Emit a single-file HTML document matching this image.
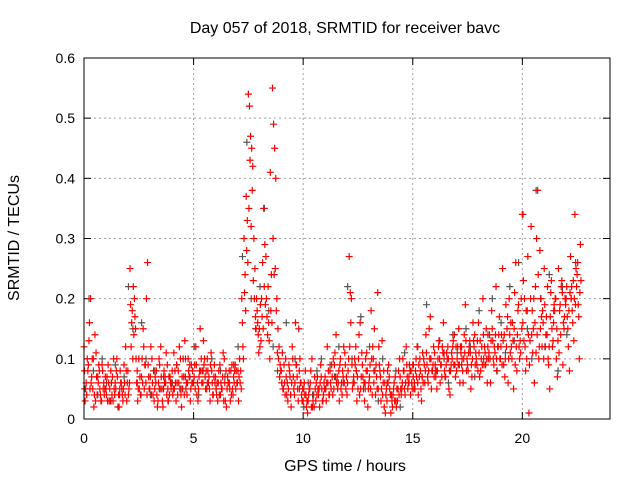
<!DOCTYPE html>
<html><head><meta charset="utf-8"><style>
body{margin:0;background:#fff}
svg{display:block;font-family:"Liberation Sans",sans-serif}
</style></head><body>
<svg id="chart" width="640" height="480" viewBox="0 0 640 480">
<rect width="640" height="480" fill="#fff"/>
<text x="345" y="33" font-size="16" text-anchor="middle">Day 057 of 2018, SRMTID for receiver bavc</text>
<text x="345" y="471" font-size="16" text-anchor="middle">GPS time / hours</text>
<text transform="translate(19,238) rotate(-90)" font-size="16" text-anchor="middle">SRMTID / TECUs</text>
<g id="grid"></g>
<g id="ticks"></g>
<g id="gray"></g>
<g id="red"></g>
<rect x="84" y="58" width="526" height="361" fill="none" stroke="#000" stroke-width="1"/>
</svg>
<script>
const xTicks=[0,5,10,15,20];
const yTicks=[0,0.1,0.2,0.3,0.4,0.5,0.6];
const yTickLabels=["0","0.1","0.2","0.3","0.4","0.5","0.6"];
const redA=[.12,.06,.09,.2,.05,.14,.04,.08,.03,.06,
.05,.09,.03,.07,.04,.1,.02,.06,.05,.12,
.08,.25,.18,.2,.06,.1,.04,.15,.09,.26,
.05,.1,.03,.08,.06,.12,.02,.07,.09,.04,
.06,.11,.03,.08,.1,.05,.13,.04,.07,.09,
.06,.12,.03,.15,.08,.1,.05,.07,.11,.04,
.07,.03,.09,.05,.1,.02,.06,.08,.04,.09,
.06,.1,.2,.3,.37,.54,.47,.42,.25,.18,
.15,.2,.35,.27,.22,.41,.55,.45,.2,.12,
.08,.05,.1,.03,.07,.12,.04,.09,.15,.06,
.03,.08,.01,.05,.1,.02,.06,.04,.09,.03,
.07,.12,.04,.09,.05,.14,.06,.1,.08,.11,
.04,.27,.2,.07,.12,.05,.16,.09,.03,.11,
.06,.18,.1,.04,.21,.08,.13,.02,.05,.09,
.01,.04,.07,.03,.1,.05,.08,.12,.06,.04,
.09,.05,.12,.07,.03,.1,.14,.06,.17,.08,
.11,.05,.13,.09,.16,.07,.12,.04,.1,.14,
.08,.15,.11,.06,.19,.09,.13,.07,.12,.1,
.16,.08,.2,.11,.06,.14,.18,.09,.22,.12,
.1,.25,.07,.15,.2,.12,.05,.26,.18,.13,
.34,.2,.1,.01,.32,.15,.22,.38,.28,.12,
.25,.17,.09,.21,.13,.2,.07,.18,.23,.15,
.2,.12,.27,.16,.34,.24,.1];
const redB=[.03,.1,.16,.07,.02,.11,.06,.04,.08,.05,
.07,.03,.06,.1,.05,.02,.08,.04,.06,.03,
.05,.12,.22,.15,.03,.07,.1,.05,.2,.07,
.12,.04,.07,.02,.09,.05,.08,.11,.03,.06,
.04,.08,.06,.12,.02,.07,.05,.1,.03,.08,
.09,.04,.07,.1,.13,.05,.08,.03,.06,.09,
.04,.08,.06,.11,.03,.07,.05,.09,.06,.08,
.03,.08,.12,.24,.33,.52,.45,.3,.15,.14,
.19,.26,.29,.17,.13,.24,.49,.4,.15,.09,
.11,.06,.04,.09,.02,.07,.16,.05,.1,.03,
.06,.02,.04,.08,.03,.05,.07,.02,.05,.06,
.03,.08,.06,.04,.11,.07,.03,.06,.12,.05,
.08,.21,.05,.1,.03,.14,.07,.05,.1,.02,
.09,.04,.15,.07,.12,.03,.06,.01,.08,.05,
.03,.06,.02,.08,.05,.1,.04,.07,.09,.06,
.05,.1,.04,.08,.11,.06,.09,.15,.05,.12,
.07,.1,.06,.12,.08,.11,.05,.09,.13,.07,
.12,.06,.1,.14,.08,.11,.05,.16,.09,.13,
.07,.12,.09,.15,.1,.06,.13,.11,.08,.17,
.14,.09,.19,.06,.11,.16,.21,.08,.12,.2,
.23,.08,.27,.13,.18,.06,.3,.1,.2,.16,
.12,.22,.05,.15,.19,.1,.25,.14,.09,.2,
.17,.08,.22,.13,.25,.19,.29];
const redC=[.08,.04,.13,.06,.1,.03,.07,.05,.09,.04,
.04,.06,.08,.03,.06,.07,.04,.05,.09,.08,
.04,.19,.1,.17,.08,.05,.07,.12,.06,.09,
.07,.06,.05,.04,.1,.07,.05,.06,.05,.07,
.08,.05,.09,.06,.04,.1,.07,.06,.09,.06,
.07,.09,.05,.08,.06,.07,.1,.05,.08,.07,
.05,.06,.04,.07,.06,.05,.08,.04,.07,.05,
.08,.06,.16,.21,.28,.35,.32,.23,.17,.16,
.12,.17,.22,.2,.16,.18,.3,.25,.11,.07,
.06,.09,.07,.05,.04,.1,.06,.07,.08,.04,
.05,.04,.03,.06,.02,.07,.04,.05,.07,.04,
.05,.06,.08,.07,.09,.06,.08,.05,.07,.09,
.06,.12,.09,.06,.08,.1,.05,.07,.06,.08,
.07,.1,.06,.09,.05,.07,.04,.06,.03,.07,
.04,.05,.03,.05,.07,.06,.05,.09,.07,.08,
.07,.08,.06,.1,.07,.09,.11,.08,.1,.09,
.09,.08,.1,.07,.11,.09,.1,.08,.12,.09,
.1,.09,.12,.1,.13,.08,.11,.1,.14,.09,
.11,.1,.14,.09,.12,.1,.15,.12,.1,.14,
.12,.13,.1,.17,.14,.1,.15,.12,.19,.11,
.16,.12,.18,.09,.14,.2,.11,.24,.15,.18,
.19,.14,.12,.23,.16,.2,.13,.19,.21,.17,
.22,.18,.2,.23,.19,.26,.21];
const redD=[.05,.08,.05,.1,.04,.07,.09,.03,.05,.07,
.03,.05,.04,.05,.08,.04,.06,.03,.04,.06,
.06,.16,.14,.1,.05,.04,.06,.09,.04,.05,
.04,.08,.06,.03,.05,.03,.06,.04,.07,.05,
.05,.06,.04,.05,.07,.04,.06,.08,.05,.06,
.05,.06,.08,.06,.09,.08,.06,.09,.04,.06,
.06,.04,.05,.03,.08,.06,.03,.05,.08,.06,
.07,.05,.1,.18,.26,.43,.38,.2,.2,.11,
.13,.15,.19,.14,.1,.16,.24,.18,.1,.08,
.05,.04,.06,.08,.06,.05,.09,.03,.06,.05,
.04,.03,.05,.02,.04,.03,.05,.06,.03,.05,
.06,.04,.05,.1,.07,.05,.09,.04,.06,.07,
.1,.16,.06,.09,.07,.04,.11,.06,.08,.05,
.05,.12,.08,.05,.09,.05,.08,.04,.06,.04,
.02,.03,.05,.04,.04,.08,.06,.05,.08,.05,
.06,.07,.09,.05,.06,.08,.07,.1,.08,.07,
.08,.12,.09,.11,.07,.1,.08,.11,.09,.12,
.09,.12,.08,.11,.1,.12,.09,.13,.11,.08,
.13,.09,.12,.1,.11,.13,.1,.14,.12,.1,
.09,.14,.12,.1,.16,.13,.09,.14,.1,.15,
.13,.18,.14,.2,.11,.16,.14,.12,.17,.1,
.14,.1,.17,.12,.18,.15,.11,.22,.16,.19,
.15,.21,.18,.2,.22,.17,.23];
const grayC=[.05,.2,.08,.04,.1,.06,.03,.09,.05,.07,
.22,.15,.06,.16,.1,.04,.08,.05,.07,.03,
.06,.09,.05,.1,.07,.12,.04,.08,.06,.1,
.05,.08,.07,.06,.09,.12,.27,.46,.2,.15,
.22,.35,.18,.12,.08,.06,.16,.04,.1,.05,
.02,.06,.04,.08,.1,.05,.09,.07,.12,.06,
.22,.1,.08,.17,.05,.12,.08,.03,.1,.06,
.04,.08,.02,.11,.06,.09,.12,.07,.19,.1,
.08,.13,.1,.06,.14,.11,.09,.15,.12,.07,
.18,.1,.14,.2,.08,.16,.11,.22,.13,.26,
.34,.15,.1,.38,.2,.12,.24,.18,.08,.22,
.14,.2,.26];
const NS="http://www.w3.org/2000/svg";
const X=h=>84+h*(526/24);
const Y=v=>419-v*(361/0.6);
function mk(tag,attrs,parent){const e=document.createElementNS(NS,tag);for(const k in attrs)e.setAttribute(k,attrs[k]);parent.appendChild(e);return e;}
const grid=document.getElementById('grid'),ticks=document.getElementById('ticks');
xTicks.forEach(t=>{
 const x=X(t);
 if(t>0){const g=mk('line',{x1:x,x2:x,y1:58,y2:419,stroke:'#a0a0a0','stroke-dasharray':'2,3'},grid);
 
 }
 mk('line',{x1:x,x2:x,y1:419,y2:412,stroke:'#000'},ticks);
 mk('line',{x1:x,x2:x,y1:58,y2:65,stroke:'#000'},ticks);
 const l=mk('text',{x:x,y:443,'font-size':14,'text-anchor':'middle'},ticks);l.textContent=t;
 
 
});
yTicks.forEach((t,i)=>{
 const y=Y(t);
 if(t>0&&t<0.6){const g=mk('line',{x1:84,x2:610,y1:y,y2:y,stroke:'#a0a0a0','stroke-dasharray':'2,3'},grid);
 
 }
 mk('line',{x1:84,x2:91,y1:y,y2:y,stroke:'#000'},ticks);
 mk('line',{x1:610,x2:603,y1:y,y2:y,stroke:'#000'},ticks);
 const l=mk('text',{x:75,y:y+5,'font-size':14,'text-anchor':'end'},ticks);l.textContent=yTickLabels[i];
 
 
});
function plus(g,h,v,c){
 const x=X(h),y=Y(v);
 const p=mk('path',{d:`M${x-3.5},${y}h7M${x},${y-3.5}v7`,stroke:c,'stroke-width':1.2,fill:'none'},g);
 
 
}
const gg=document.getElementById('gray'),rg=document.getElementById('red');
grayC.forEach((v,i)=>plus(gg,i*0.2+0.03,v,'#555'));
redA.forEach((v,i)=>plus(rg,i*0.1,v,'#ff0000'));
redB.forEach((v,i)=>plus(rg,i*0.1+0.05,v,'#ff0000'));
redC.forEach((v,i)=>plus(rg,i*0.1+0.025,v,'#ff0000'));
redD.forEach((v,i)=>plus(rg,i*0.1+0.075,v,'#ff0000'));
</script>
</body></html>
